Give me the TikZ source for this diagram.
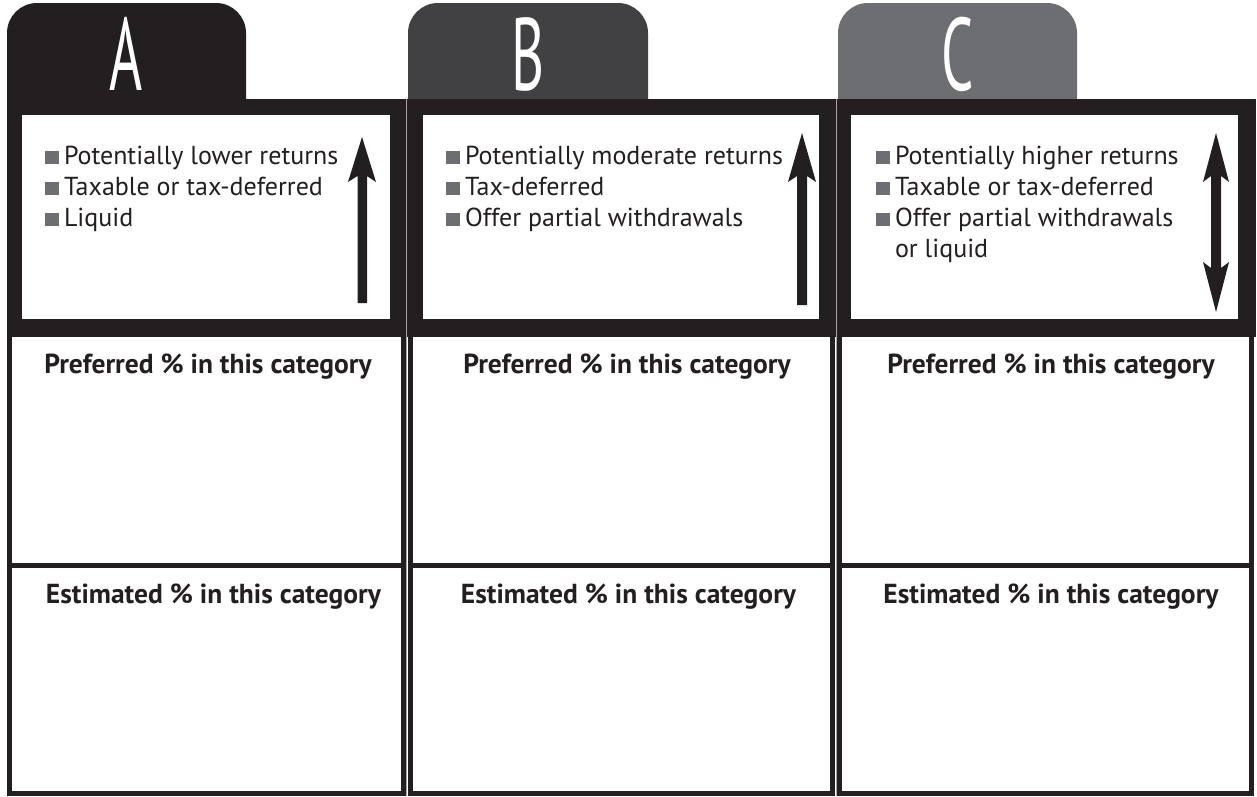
\documentclass[tikz,border=0pt]{standalone}
\usepackage{fontspec}
\setmainfont{PT Sans}
\definecolor{ink}{HTML}{231F20}
\definecolor{tabB}{HTML}{414042}
\definecolor{tabC}{HTML}{6D6E71}
\definecolor{bul}{HTML}{6D6E71}
\begin{document}
\begin{tikzpicture}[x=1pt,y=-1pt,inner sep=0pt,outer sep=0pt,
  item/.style={anchor=base west,font=\fontsize{26}{30}\selectfont,text=ink},
  head/.style={anchor=base,font=\fontsize{27.5}{30}\selectfont\bfseries,text=ink},
  bull/.style={fill=bul},
  cell/.style={draw=ink,line width=5pt},
  sep/.style={draw=black!35,line width=0.8pt},
  letter/.style={anchor=base,text=white,font=\fontsize{103}{103}\selectfont}]
\useasboundingbox (0,0) rectangle (1257,796);
\fill[white] (0,0) rectangle (1257,796);
% tabs
\fill[ink,rounded corners=30pt] (7,3) rectangle (246,150);
\fill[tabB,rounded corners=30pt] (408,3) rectangle (648,150);
\fill[tabC,rounded corners=30pt] (838,3) rectangle (1077,150);
% lower cells
\draw[cell] (9.5,330) rectangle (403.5,793.5);
\draw[cell] (7,565.5) -- (406,565.5);
\draw[cell] (410.5,330) rectangle (832.5,793.5);
\draw[cell] (408,565.5) -- (835,565.5);
\draw[cell] (839.5,330) rectangle (1251,793.5);
\draw[cell] (837,565.5) -- (1253.5,565.5);
% frames
\fill[ink] (7,99) rectangle (406,337);
\fill[white] (22,115) rectangle (390,319);
\fill[ink] (406,99) rectangle (835,337);
\fill[white] (423,115) rectangle (819,319);
\fill[ink] (835,99) rectangle (1256,337);
\fill[white] (851,115) rectangle (1238,319);
\draw[sep] (406.5,99) -- (406.5,796);
\draw[sep] (836,99) -- (836,796);
% letters
\node[letter] (la) at (126.5,90) {\scalebox{0.55}[1]{A}};
\node[letter] (lb) at (528,90) {\scalebox{0.55}[1]{B}};
\node[letter] (lc) at (957.5,90) {\scalebox{0.55}[1]{C}};
% arrows
\fill[ink] (362,137) -- (376,182) -- (367,176) -- (367,303) -- (357.5,303) -- (357.5,176) -- (348,182) -- cycle;
\fill[ink] (802,133) -- (816,182) -- (807,176) -- (807,305) -- (797,305) -- (797,176) -- (788,182) -- cycle;
\fill[ink] (1216,133) -- (1229,182) -- (1221,176) -- (1221,268) -- (1229,262) -- (1216,312)
  -- (1203,262) -- (1211,268) -- (1211,176) -- (1203,182) -- cycle;
% bullets A
\foreach \y in {164,195,226}{\fill[bul] (45,\y-13) rectangle (59,\y);}
\node[item] (a1) at (64,164) {Potentially lower returns};
\node[item] (a2) at (64,195) {Taxable or tax-deferred};
\node[item] (a3) at (64,226) {Liquid};
% bullets B
\foreach \y in {164,195,226}{\fill[bul] (446,\y-13) rectangle (460,\y);}
\node[item] (b1) at (465,164) {Potentially moderate returns};
\node[item] (b2) at (465,195) {Tax-deferred};
\node[item] (b3) at (465,226) {Offer partial withdrawals};
% bullets C
\foreach \y in {164,195,226}{\fill[bul] (876,\y-13) rectangle (890,\y);}
\node[item] (c1) at (895,164) {Potentially higher returns};
\node[item] (c2) at (895,195) {Taxable or tax-deferred};
\node[item] (c3) at (895,226) {Offer partial withdrawals};
\node[item] (c4) at (895,257) {or liquid};
% headings
\node[head] (pa) at (208,373) {Preferred \% in this category};
\node[head] (pb) at (627,373) {Preferred \% in this category};
\node[head] (pc) at (1051,373) {Preferred \% in this category};
\node[head] (ea) at (213.5,603) {Estimated \% in this category};
\node[head] (eb) at (628.5,603) {Estimated \% in this category};
\node[head] (ec) at (1051,603) {Estimated \% in this category};
\end{tikzpicture}
\end{document}
